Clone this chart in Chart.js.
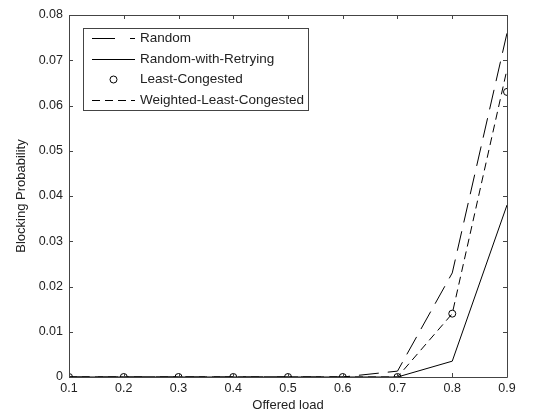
<!DOCTYPE html>
<html>
<head>
<meta charset="utf-8">
<script src="https://cdn.jsdelivr.net/npm/chart.js@4.4.1/dist/chart.umd.min.js"></script>
<style>
  html, body { margin: 0; padding: 0; background: #fff; }
  #wrap { width: 546px; height: 413px; }
</style>
</head>
<body>
<div id="wrap"><canvas id="chart"></canvas></div>
<script>
// offered load values (x axis)
const loads = [0.1, 0.2, 0.3, 0.4, 0.5, 0.6, 0.7, 0.8, 0.9];

// blocking probability per strategy
const randomVals = [0, 0, 0, 0, 0, 0, 0.0013, 0.023, 0.076];
const retryingVals = [0, 0, 0, 0, 0, 0, 0, 0.0035, 0.038];
const leastCongestedVals = [0, 0, 0, 0, 0, 0, 0, 0.014, 0.063];
const weightedVals = [0, 0, 0, 0, 0, 0, 0, 0.014, 0.068];

const seriesLabels = ["Random", "Random-with-Retrying", "Least-Congested", "Weighted-Least-Congested"];

const xTicks = [0.1, 0.2, 0.3, 0.4, 0.5, 0.6, 0.7, 0.8, 0.9];
const yTicks = [0, 0.01, 0.02, 0.03, 0.04, 0.05, 0.06, 0.07, 0.08];

const FONT = "'Liberation Sans', Arial, sans-serif";
const AXIS_COLOR = "#444";
const TEXT_COLOR = "#222";

function toPoints(values) {
  return loads.map((x, i) => ({ x: x, y: values[i] }));
}

// box + inward ticks on all four sides, like the matlab figure
const boxPlugin = {
  id: "box",
  afterDatasetsDraw(chart) {
    const ctx = chart.ctx;
    const a = chart.chartArea;
    const xs = chart.scales.x;
    const ys = chart.scales.y;
    ctx.save();
    ctx.strokeStyle = AXIS_COLOR;
    ctx.lineWidth = 1;
    ctx.beginPath();
    ctx.rect(Math.round(a.left) + 0.5, Math.round(a.top) + 0.5, Math.round(a.right - a.left), Math.round(a.bottom - a.top));
    ctx.stroke();
    const len = 4;
    ctx.beginPath();
    xTicks.forEach((v) => {
      const px = Math.round(xs.getPixelForValue(v)) + 0.5;
      ctx.moveTo(px, a.bottom);
      ctx.lineTo(px, a.bottom - len);
      ctx.moveTo(px, a.top);
      ctx.lineTo(px, a.top + len);
    });
    yTicks.forEach((v) => {
      const py = Math.round(ys.getPixelForValue(v)) + 0.5;
      ctx.moveTo(a.left, py);
      ctx.lineTo(a.left + len, py);
      ctx.moveTo(a.right, py);
      ctx.lineTo(a.right - len, py);
    });
    ctx.stroke();
    ctx.restore();
  },
};

// legend box drawn inside the plot area, top-left
const legendPlugin = {
  id: "innerLegend",
  afterDraw(chart) {
    const ctx = chart.ctx;
    const a = chart.chartArea;
    const x0 = Math.round(a.left) + 14;
    const y0 = Math.round(a.top) + 13;
    const w = 225;
    const h = 82;
    ctx.save();
    ctx.fillStyle = "#fff";
    ctx.fillRect(x0, y0, w, h);
    ctx.strokeStyle = AXIS_COLOR;
    ctx.lineWidth = 1;
    ctx.strokeRect(x0 + 0.5, y0 + 0.5, w, h);
    ctx.font = "13.5px " + FONT;
    ctx.textBaseline = "middle";
    ctx.fillStyle = TEXT_COLOR;
    chart.data.datasets.forEach((ds, i) => {
      const cy = Math.round(y0 + 10 + i * 20.5) + 0.5;
      const lx1 = x0 + 9;
      const lx2 = x0 + 52;
      if (ds.showLine === false) {
        ctx.beginPath();
        ctx.strokeStyle = "#000";
        ctx.setLineDash([]);
        ctx.arc((lx1 + lx2) / 2, cy, 3.5, 0, Math.PI * 2);
        ctx.stroke();
      } else {
        ctx.beginPath();
        ctx.strokeStyle = "#000";
        ctx.setLineDash(ds.legendDash || ds.borderDash || []);
        ctx.moveTo(lx1, cy);
        ctx.lineTo(lx2, cy);
        ctx.stroke();
        ctx.setLineDash([]);
      }
      ctx.fillText(ds.label, x0 + 57, cy);
    });
    ctx.restore();
  },
};

const chartCtx = document.getElementById("chart").getContext("2d");

new Chart(chartCtx, {
  type: "scatter",
  data: {
    datasets: [
      {
        label: seriesLabels[0],
        data: toPoints(randomVals),
        showLine: true,
        borderColor: "#000",
        borderWidth: 1,
        borderDash: [20, 9],
        legendDash: [23, 15],
        pointRadius: 0,
      },
      {
        label: seriesLabels[1],
        data: toPoints(retryingVals),
        showLine: true,
        borderColor: "#000",
        borderWidth: 1,
        pointRadius: 0,
      },
      {
        label: seriesLabels[2],
        data: toPoints(leastCongestedVals),
        showLine: false,
        borderColor: "#000",
        backgroundColor: "rgba(0,0,0,0)",
        borderWidth: 1,
        pointRadius: 3.5,
        pointStyle: "circle",
      },
      {
        label: seriesLabels[3],
        data: toPoints(weightedVals),
        showLine: true,
        borderColor: "#000",
        borderWidth: 1,
        borderDash: [8, 5],
        pointRadius: 0,
      },
    ],
  },
  options: {
    responsive: true,
    maintainAspectRatio: false,
    animation: false,
    layout: {
      padding: { top: 15, right: 39, left: 0, bottom: 0 },
    },
    plugins: {
      legend: { display: false },
      tooltip: { enabled: false },
    },
    scales: {
      x: {
        type: "linear",
        min: 0.1,
        max: 0.9,
        afterBuildTicks: (scale) => {
          scale.ticks = xTicks.map((v) => ({ value: v }));
        },
        afterFit: (scale) => {
          scale.height = 36;
        },
        grid: { display: false, drawTicks: false },
        border: { display: false },
        ticks: {
          color: TEXT_COLOR,
          font: { family: FONT, size: 12.5 },
          padding: 4,
          maxRotation: 0,
          callback: (v) => v.toFixed(1),
        },
        title: {
          display: true,
          text: "Offered load",
          color: TEXT_COLOR,
          font: { family: FONT, size: 13 },
          padding: { top: 0, bottom: 0 },
        },
      },
      y: {
        min: 0,
        max: 0.08,
        afterBuildTicks: (scale) => {
          scale.ticks = yTicks.map((v) => ({ value: v }));
        },
        afterFit: (scale) => {
          scale.width = 69;
        },
        grid: { display: false, drawTicks: false },
        border: { display: false },
        ticks: {
          color: TEXT_COLOR,
          font: { family: FONT, size: 12.5 },
          padding: 6,
          callback: (v) => (v === 0 ? "0" : v.toFixed(2)),
        },
        title: {
          display: true,
          text: "Blocking Probability",
          color: TEXT_COLOR,
          font: { family: FONT, size: 13 },
          padding: { top: 14, bottom: 0 },
        },
      },
    },
  },
  plugins: [boxPlugin, legendPlugin],
});
</script>
</body>
</html>
